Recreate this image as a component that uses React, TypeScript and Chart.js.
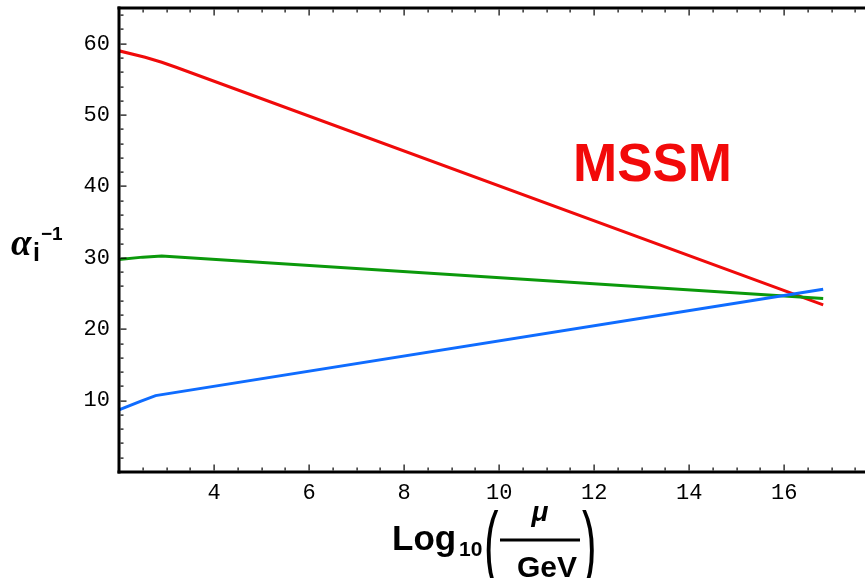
import React, { useEffect, useRef } from "react";
import { Chart, registerables } from "chart.js";

Chart.register(...registerables);

// Data (x = log10(mu/GeV), y = 1/alpha_i)
const redX = [2.0, 2.55, 2.9, 3.2, 16.82];
const redY = [59.0, 58.1, 57.4, 56.7, 23.4];
const greenX = [2.0, 2.5, 2.9, 16.82];
const greenY = [29.75, 30.1, 30.25, 24.3];
const blueX = [2.0, 2.45, 2.77, 16.82];
const blueY = [8.7, 9.9, 10.7, 25.6];

const xTicks = [4, 6, 8, 10, 12, 14, 16];
const yTicks = [10, 20, 30, 40, 50, 60];

const X_MIN = 2;
const X_MAX = 17.7;
const Y_MIN = 0;
const Y_MAX = 65;

const toPts = (xs: number[], ys: number[]) => xs.map((x, i) => ({ x, y: ys[i] }));

const framePlugin = {
  id: "framePlugin",
  afterDraw(chart: any) {
    const ctx = chart.ctx;
    const ca = chart.chartArea;
    const xs = chart.scales.x;
    const ys = chart.scales.y;
    ctx.save();
    ctx.fillStyle = "#000";
    // frame: left, bottom, top
    ctx.fillRect(ca.left - 1.5, ca.top - 1.5, 3, ca.bottom - ca.top + 3);
    ctx.fillRect(ca.left - 1.5, ca.bottom - 1.5, ca.right - ca.left + 3, 3);
    ctx.fillRect(ca.left - 1.5, ca.top - 1.5, ca.right - ca.left + 3, 3);
    // x ticks (bottom and top, inward)
    for (let v = X_MIN + 0.5; v <= X_MAX; v += 0.5) {
      const px = Math.round(xs.getPixelForValue(v));
      const major = Math.abs(v - Math.round(v)) < 1e-6 && Math.round(v) % 2 === 0;
      const len = major ? 6 : 3;
      ctx.fillRect(px - 0.5, ca.bottom - 1.5 - len, 1.2, len);
      ctx.fillRect(px - 0.5, ca.top + 1.5, 1.2, len);
    }
    // y ticks (left, inward)
    for (let v = Y_MIN + 2; v < Y_MAX; v += 2) {
      const py = Math.round(ys.getPixelForValue(v));
      const major = v % 10 === 0;
      const len = major ? 6 : 3;
      ctx.fillRect(ca.left + 1.5, py - 0.5, len, 1.2);
    }

    // y-axis title: alpha_i^-1
    ctx.fillStyle = "#000";
    ctx.textBaseline = "alphabetic";
    ctx.textAlign = "left";
    ctx.font = "bold italic 37px 'Liberation Serif'";
    ctx.fillText("α", 11, 255);
    ctx.font = "bold 25px 'Liberation Sans'";
    ctx.fillText("i", 33, 261);
    ctx.font = "bold 19px 'Liberation Sans'";
    ctx.fillText("−1", 41, 240);

    // x-axis title: Log10( mu / GeV )
    ctx.font = "bold 35px 'Liberation Sans'";
    ctx.fillText("Log", 392, 550);
    ctx.font = "bold 21px 'Liberation Sans'";
    ctx.fillText("10", 459, 556);
    // parentheses (compressed)
    ctx.font = "normal 87px 'Liberation Sans'";
    ctx.save();
    ctx.translate(484, 573);
    ctx.scale(0.5, 1);
    ctx.fillText("(", 0, 0);
    ctx.restore();
    ctx.save();
    ctx.translate(582, 573);
    ctx.scale(0.5, 1);
    ctx.fillText(")", 0, 0);
    ctx.restore();
    // fraction
    ctx.textAlign = "center";
    ctx.font = "bold italic 28px 'Liberation Sans'";
    ctx.fillText("μ", 540, 521);
    ctx.fillRect(500, 538.5, 80, 3);
    ctx.font = "bold 30px 'Liberation Sans'";
    ctx.fillText("GeV", 547, 577);

    // MSSM label
    ctx.fillStyle = "#f20a0a";
    ctx.textAlign = "left";
    ctx.font = "bold 53px 'Liberation Sans'";
    ctx.fillText("MSSM", 573, 181);
    ctx.restore();
  },
};

export default function App() {
  const ref = useRef<HTMLCanvasElement | null>(null);
  useEffect(() => {
    if (!ref.current) return;
    const chart = new Chart(ref.current, {
      type: "line",
      data: {
        datasets: [
          {
            data: toPts(blueX, blueY),
            borderColor: "#0f6cff",
            borderWidth: 3,
            pointRadius: 0,
            tension: 0,
          },
          {
            data: toPts(greenX, greenY),
            borderColor: "#0b990b",
            borderWidth: 3,
            pointRadius: 0,
            tension: 0,
          },
          {
            data: toPts(redX, redY),
            borderColor: "#f00a0a",
            borderWidth: 3,
            pointRadius: 0,
            tension: 0,
          },
        ],
      },
      options: {
        responsive: false,
        animation: false,
        devicePixelRatio: 1,
        layout: { padding: { top: 8, left: 0, right: 0, bottom: 0 } },
        plugins: { legend: { display: false }, tooltip: { enabled: false } },
        scales: {
          x: {
            type: "linear",
            min: X_MIN,
            max: X_MAX,
            grid: { display: false, drawTicks: false },
            border: { display: false },
            afterBuildTicks: (s: any) => {
              s.ticks = xTicks.map((v) => ({ value: v }));
            },
            afterFit: (s: any) => {
              s.height = 106;
              s.paddingLeft = 0;
              s.paddingRight = 0;
            },
            ticks: {
              padding: 8,
              maxRotation: 0,
              autoSkip: false,
              color: "#000",
              font: { family: "'Liberation Mono'", size: 22 },
              callback: (v: any) => String(v),
            },
          },
          y: {
            type: "linear",
            min: Y_MIN,
            max: Y_MAX,
            grid: { display: false, drawTicks: false },
            border: { display: false },
            afterBuildTicks: (s: any) => {
              s.ticks = yTicks.map((v) => ({ value: v }));
            },
            afterFit: (s: any) => {
              s.width = 119;
              s.paddingTop = 0;
              s.paddingBottom = 0;
            },
            ticks: {
              padding: 9,
              autoSkip: false,
              color: "#000",
              font: { family: "'Liberation Mono'", size: 22 },
              callback: (v: any) => String(v),
            },
          },
        },
      },
      plugins: [framePlugin],
    } as any);
    return () => chart.destroy();
  }, []);
  return (
    <div style={{ position: "fixed", left: 0, top: 0, width: 865, height: 578, background: "#fff" }}>
      <canvas ref={ref} width={865} height={578} style={{ display: "block", width: 865, height: 578 }} />
    </div>
  );
}
